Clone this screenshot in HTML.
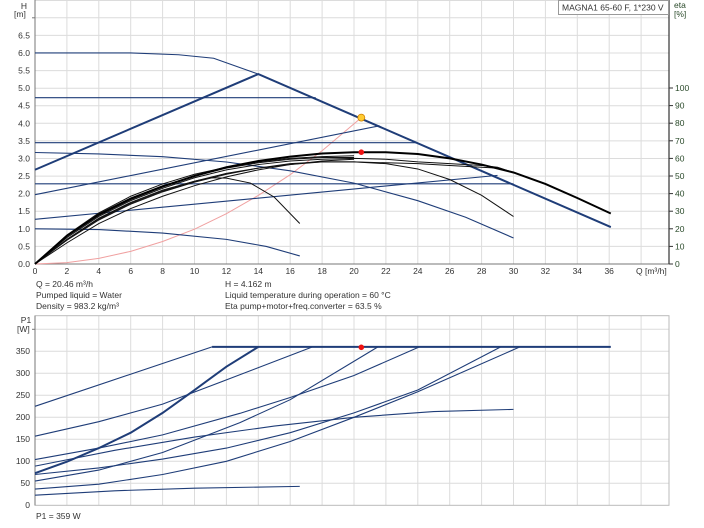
<!DOCTYPE html>
<html><head><meta charset="utf-8"><style>
html,body{margin:0;padding:0;background:#fff;}
svg{display:block;font-family:"Liberation Sans",sans-serif;font-size:8.5px;fill:#333;}
.g{stroke:#dcdcdc;stroke-width:1;}
.b{fill:none;stroke:#1f3d78;stroke-width:1.1;vector-effect:non-scaling-stroke;}
.bt{fill:none;stroke:#1f3d78;stroke-width:2;vector-effect:non-scaling-stroke;}
.k{fill:none;stroke:#111;stroke-width:1;vector-effect:non-scaling-stroke;}
.kt{fill:none;stroke:#000;stroke-width:2;vector-effect:non-scaling-stroke;}
.p{fill:none;stroke:#f0a0a0;stroke-width:1;vector-effect:non-scaling-stroke;}
.ax{stroke:#777;stroke-width:1;fill:none;}
</style></head><body>
<svg width="704" height="528" viewBox="0 0 704 528">
<g class="g">
<line x1="35" y1="0.5" x2="669" y2="0.5"/>
<line x1="35" y1="17.8" x2="669" y2="17.8"/><line x1="35" y1="35.4" x2="669" y2="35.4"/>
<line x1="35" y1="53" x2="669" y2="53"/><line x1="35" y1="70.6" x2="669" y2="70.6"/>
<line x1="35" y1="88.2" x2="669" y2="88.2"/><line x1="35" y1="105.7" x2="669" y2="105.7"/>
<line x1="35" y1="123.3" x2="669" y2="123.3"/><line x1="35" y1="140.9" x2="669" y2="140.9"/>
<line x1="35" y1="158.5" x2="669" y2="158.5"/><line x1="35" y1="176.1" x2="669" y2="176.1"/>
<line x1="35" y1="193.7" x2="669" y2="193.7"/><line x1="35" y1="211.2" x2="669" y2="211.2"/>
<line x1="35" y1="228.8" x2="669" y2="228.8"/><line x1="35" y1="246.4" x2="669" y2="246.4"/>
<line x1="66.9" y1="0" x2="66.9" y2="264"/><line x1="98.8" y1="0" x2="98.8" y2="264"/>
<line x1="130.7" y1="0" x2="130.7" y2="264"/><line x1="162.6" y1="0" x2="162.6" y2="264"/>
<line x1="194.5" y1="0" x2="194.5" y2="264"/><line x1="226.4" y1="0" x2="226.4" y2="264"/>
<line x1="258.3" y1="0" x2="258.3" y2="264"/><line x1="290.2" y1="0" x2="290.2" y2="264"/>
<line x1="322.1" y1="0" x2="322.1" y2="264"/><line x1="354" y1="0" x2="354" y2="264"/>
<line x1="385.9" y1="0" x2="385.9" y2="264"/><line x1="417.8" y1="0" x2="417.8" y2="264"/>
<line x1="449.7" y1="0" x2="449.7" y2="264"/><line x1="481.6" y1="0" x2="481.6" y2="264"/>
<line x1="513.5" y1="0" x2="513.5" y2="264"/><line x1="545.4" y1="0" x2="545.4" y2="264"/>
<line x1="577.3" y1="0" x2="577.3" y2="264"/><line x1="609.2" y1="0" x2="609.2" y2="264"/>
<line x1="641.1" y1="0" x2="641.1" y2="264"/>
</g>
<line class="ax" x1="35" y1="0" x2="35" y2="264"/>
<line class="ax" x1="35" y1="264" x2="669" y2="264"/>
<line x1="669" y1="0" x2="669" y2="264" stroke="#333" stroke-width="1.2"/>
<g transform="translate(35,264) scale(15.95,-35.17)">
<path class="p" d="M0,0 L2,0.04 4,0.16 6,0.36 8,0.64 10,0.99 12,1.43 14,1.95 16,2.54 18,3.22 20.46,4.162"/>
<path class="b" d="M0,6 L6,6 9,5.95 11.2,5.85 14,5.4 36.1,1.05"/>
<path class="bt" d="M0,2.68 L14,5.4 36.1,1.05"/>
<path class="b" d="M0,4.73 L17.6,4.73"/>
<path class="b" d="M0,3.45 L23.9,3.45"/>
<path class="b" d="M0,2.28 L30,2.28"/>
<path class="b" d="M0,1.97 L21.6,3.93"/>
<path class="b" d="M0,1.27 L29,2.52"/>
<path class="b" d="M0,3.17 L4,3.13 8,3.05 12,2.9 16,2.65 20,2.3 24,1.8 27,1.33 30,0.74"/>
<path class="b" d="M0,1 L4,0.98 8,0.88 12,0.7 14.5,0.5 16.6,0.23"/>
</g>
<g transform="translate(35,264) scale(15.95,-1.76)">
<path class="k" d="M0,0 L2,14 4,26 6,35 8,42 10,47 11,49 12,48.8 13.5,46 15,38 16.6,23"/>
<path class="k" d="M0,0 L2,14 4,25.5 6,34.5 8,41.5 10,47 12,51.5 14,54.5 16,56.5 18,58 20,58 22,57 24,54 26,48 28,39 30,27"/>
<path class="k" d="M0,0 L2,13.5 4,25 6,34 8,41 10,46.5 12,51 14,54.5 16,57 18,58 20,58 22,57.5 24,57 26,56 28,55 29,54.5"/>
<path class="k" d="M0,0 L2,15 4,27 6,36 8,43 10,49 12,53.5 14,56.5 16,58.5 18,59.5 20,60 22,59.5 24,58 26,57 28,56 29,55 30,52"/>
<path class="k" d="M0,0 L2,16 4,28.5 6,37.5 8,44.5 10,50 12,54.5 14,57.5 16,59.5 18,60.5 20,60.5"/>
<path class="k" d="M0,0 L2,16.5 4,29 6,38.5 8,45.5 10,51 12,55 14,58 16,60 18,61 20,61.5"/>
<path class="k" d="M0,0 L2,12 4,23 6,31.5 8,38.5 10,44.5 12,49.5 14,53.5 16,56.5 18,58.5 20,59.5"/>
<path class="kt" d="M0,0 L2,16 4,28 6,37 8,44 10,50 12,55 14,58.5 16,61 18,62.8 20,63.5 22,63.5 24,62.5 26,60 28,56.5 30,52 32,45.5 34,37.5 36.1,28.7"/>
</g>
<circle cx="361.3" cy="117.6" r="3.5" fill="#ffcc33" stroke="#d08000" stroke-width="0.8"/>
<circle cx="361.3" cy="152.2" r="2.8" fill="#ee1111"/>
<g text-anchor="end">
<text x="30" y="267">0.0</text><text x="30" y="249.4">0.5</text><text x="30" y="231.8">1.0</text>
<text x="30" y="214.2">1.5</text><text x="30" y="196.7">2.0</text><text x="30" y="179.1">2.5</text>
<text x="30" y="161.5">3.0</text><text x="30" y="143.9">3.5</text><text x="30" y="126.3">4.0</text>
<text x="30" y="108.7">4.5</text><text x="30" y="91.2">5.0</text><text x="30" y="73.6">5.5</text>
<text x="30" y="56">6.0</text><text x="30" y="38.4">6.5</text>
</g>
<g stroke="#777"><line x1="32" y1="17.8" x2="35" y2="17.8"/></g>
<text x="24" y="9" text-anchor="middle">H</text><text x="14" y="17">[m]</text>
<g text-anchor="middle">
<text x="35" y="274">0</text><text x="66.9" y="274">2</text><text x="98.8" y="274">4</text>
<text x="130.7" y="274">6</text><text x="162.6" y="274">8</text><text x="194.5" y="274">10</text>
<text x="226.4" y="274">12</text><text x="258.3" y="274">14</text><text x="290.2" y="274">16</text>
<text x="322.1" y="274">18</text><text x="354" y="274">20</text><text x="385.9" y="274">22</text>
<text x="417.8" y="274">24</text><text x="449.7" y="274">26</text><text x="481.6" y="274">28</text>
<text x="513.5" y="274">30</text><text x="545.4" y="274">32</text><text x="577.3" y="274">34</text>
<text x="609.2" y="274">36</text>
</g>
<text x="636" y="274">Q [m³/h]</text>
<g stroke="#333"><line x1="669" y1="264" x2="673" y2="264"/><line x1="669" y1="246.4" x2="673" y2="246.4"/><line x1="669" y1="228.8" x2="673" y2="228.8"/><line x1="669" y1="211.2" x2="673" y2="211.2"/><line x1="669" y1="193.6" x2="673" y2="193.6"/><line x1="669" y1="176" x2="673" y2="176"/><line x1="669" y1="158.4" x2="673" y2="158.4"/><line x1="669" y1="140.8" x2="673" y2="140.8"/><line x1="669" y1="123.2" x2="673" y2="123.2"/><line x1="669" y1="105.6" x2="673" y2="105.6"/><line x1="669" y1="88" x2="673" y2="88"/></g>
<g fill="#2a4a2a">
<text x="675" y="267">0</text><text x="675" y="249.4">10</text><text x="675" y="231.8">20</text>
<text x="675" y="214.2">30</text><text x="675" y="196.6">40</text><text x="675" y="179">50</text>
<text x="675" y="161.4">60</text><text x="675" y="143.8">70</text><text x="675" y="126.2">80</text>
<text x="675" y="108.6">90</text><text x="675" y="91">100</text>
<text x="674" y="8">eta</text><text x="674" y="17">[%]</text>
</g>
<rect x="558.5" y="0.5" width="110" height="14" fill="#fff" stroke="#999"/>
<text x="562" y="10.5">MAGNA1 65-60 F, 1*230 V</text>
<text x="36" y="287">Q = 20.46 m³/h</text>
<text x="36" y="298">Pumped liquid = Water</text>
<text x="36" y="309">Density = 983.2 kg/m³</text>
<text x="225" y="287">H = 4.162 m</text>
<text x="225" y="298">Liquid temperature during operation = 60 °C</text>
<text x="225" y="309">Eta pump+motor+freq.converter = 63.5 %</text>
<g class="g">
<line x1="35" y1="329.3" x2="669" y2="329.3"/><line x1="35" y1="351.3" x2="669" y2="351.3"/>
<line x1="35" y1="373.3" x2="669" y2="373.3"/><line x1="35" y1="395.3" x2="669" y2="395.3"/>
<line x1="35" y1="417.3" x2="669" y2="417.3"/><line x1="35" y1="439.3" x2="669" y2="439.3"/>
<line x1="35" y1="461.3" x2="669" y2="461.3"/><line x1="35" y1="483.3" x2="669" y2="483.3"/>
<line x1="66.9" y1="316" x2="66.9" y2="505"/><line x1="98.8" y1="316" x2="98.8" y2="505"/>
<line x1="130.7" y1="316" x2="130.7" y2="505"/><line x1="162.6" y1="316" x2="162.6" y2="505"/>
<line x1="194.5" y1="316" x2="194.5" y2="505"/><line x1="226.4" y1="316" x2="226.4" y2="505"/>
<line x1="258.3" y1="316" x2="258.3" y2="505"/><line x1="290.2" y1="316" x2="290.2" y2="505"/>
<line x1="322.1" y1="316" x2="322.1" y2="505"/><line x1="354" y1="316" x2="354" y2="505"/>
<line x1="385.9" y1="316" x2="385.9" y2="505"/><line x1="417.8" y1="316" x2="417.8" y2="505"/>
<line x1="449.7" y1="316" x2="449.7" y2="505"/><line x1="481.6" y1="316" x2="481.6" y2="505"/>
<line x1="513.5" y1="316" x2="513.5" y2="505"/><line x1="545.4" y1="316" x2="545.4" y2="505"/>
<line x1="577.3" y1="316" x2="577.3" y2="505"/><line x1="609.2" y1="316" x2="609.2" y2="505"/>
<line x1="641.1" y1="316" x2="641.1" y2="505"/>
</g>
<rect x="35" y="315.7" width="634" height="189.6" fill="none" stroke="#bbb"/>
<line class="ax" x1="35" y1="315.7" x2="35" y2="505.3"/>
<g transform="translate(35,505.3) scale(15.95,-0.44)">
<path class="b" d="M0,225 L11.1,360"/>
<path class="b" d="M0,157 L4,190 8,230 12,285 17.4,360"/>
<path class="b" d="M0,104 L4,130 8,160 12.85,209 16,245 20,295 24.1,360"/>
<path class="b" d="M0,89 L5,125 10,155 15,180 20,200 25,213 30,218"/>
<path class="b" d="M0,55 L4,80 8,120 12.85,188 16,240 21.5,360"/>
<path class="b" d="M0,70 L4,85 8,105 12,130 16,165 20,210 24,262 29.2,360"/>
<path class="b" d="M0,37 L4,48 8,70 12,100 16,145 20,200 24,258 30.4,360"/>
<path class="b" d="M0,23 L5,33 10,39 16.6,43"/>
<path class="bt" d="M0,73 L2,99 4,130 6,165 8,210 10,262 12,315 14,360"/>
<path class="bt" d="M11.1,360 L36.1,360"/>
</g>
<circle cx="361.3" cy="347.3" r="2.8" fill="#ee1111"/>
<g text-anchor="end">
<text x="30" y="508">0</text><text x="30" y="486">50</text><text x="30" y="464">100</text>
<text x="30" y="442">150</text><text x="30" y="420">200</text><text x="30" y="398">250</text>
<text x="30" y="376">300</text><text x="30" y="354">350</text>
</g>
<g stroke="#777"><line x1="32" y1="329.3" x2="35" y2="329.3"/></g>
<text x="26" y="323" text-anchor="middle">P1</text><text x="17" y="332">[W]</text>
<text x="36" y="519">P1 = 359 W</text>
</svg>
</body></html>
